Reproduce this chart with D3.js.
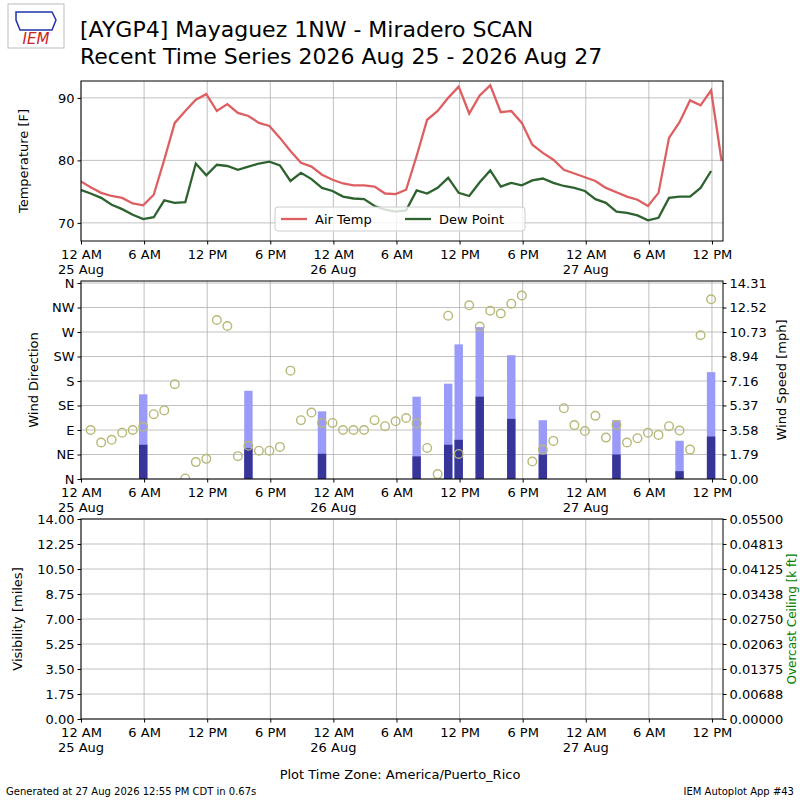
<!DOCTYPE html>
<html>
<head>
<meta charset="utf-8">
<script src="https://cdn.jsdelivr.net/npm/d3@7"></script>
<style>
body { margin:0; background:#fff; }
text { font-family: "DejaVu Sans", sans-serif; }
</style>
</head>
<body>
<div id="chart-area"></div>
<script>
// observations are hourly, each a few minutes before the hour
var airTemp = [76.7,75.7,74.8,74.3,74.0,73.1,72.8,74.5,80.1,86.0,87.9,89.7,90.6,87.9,89.0,87.6,87.1,86.0,85.5,83.6,
    81.5,79.6,79.0,77.7,76.9,76.3,76.0,76.0,75.8,74.7,74.6,75.3,80.7,86.5,87.9,90.0,91.8,87.5,90.4,92.0,
    87.7,87.9,86.0,82.5,81.2,80.1,78.5,77.9,77.3,76.7,75.6,74.9,74.2,73.7,72.7,74.8,83.6,86.1,89.6,88.8,91.2,79.9];
var dewPoint = [75.3,74.7,74.0,72.9,72.2,71.3,70.6,70.9,73.6,73.2,73.3,79.5,77.6,79.3,79.1,78.5,79.0,79.5,79.8,79.2,
    76.7,78.0,77.0,75.6,75.1,74.2,73.9,73.8,72.7,72.1,71.8,72.0,75.2,74.7,75.6,77.2,74.8,74.3,76.5,78.4,
    75.8,76.4,76.0,76.8,77.1,76.4,75.9,75.6,75.1,73.8,73.2,71.8,71.6,71.2,70.4,70.8,74.0,74.2,74.2,75.6,78.3];
// wind direction, hours 1..60
var windDir = [90,67,72,85,90,96,119,126,174,1,31,37,292,281,42,61,52,52,59,199,
    108,122,103,103,90,90,90,108,97,106,112,102,57,9,300,46,319,280,309,304,
    322,337,32,54,70,130,99,88,116,76,99,67,75,85,81,97,89,54,264,330];
var windHours = [6,16,23,32,35,36,38,41,44,51,57,60];
var windSpeed = [2.50,2.24,1.84,1.65,2.50,2.86,6.01,4.39,1.79,1.79,0.57,3.10];
var windGust  = [6.18,6.44,4.94,6.01,6.96,9.83,11.09,9.04,4.29,4.29,2.79,7.80];

var hourTicks = [0,6,12,18,24,30,36,42,48,54,60];
var hourLabels = ["12 AM","6 AM","12 PM","6 PM","12 AM","6 AM","12 PM","6 PM","12 AM","6 AM","12 PM"];
var dayLabels = {0:"25 Aug",24:"26 Aug",48:"27 Aug"};
var dirLabels = ["N","NE","E","SE","S","SW","W","NW","N"];
var speedTicks = [0,1.79,3.58,5.37,7.16,8.94,10.73,12.52,14.31];
var visTicks = [0,1.75,3.5,5.25,7,8.75,10.5,12.25,14];
var ceilTicks = [0,0.00688,0.01375,0.02063,0.0275,0.03438,0.04125,0.04813,0.055];

function obsTime(k) { return k - 5/60; }

var svg = d3.select("#chart-area").append("svg").attr("width",800).attr("height",800);

var x = d3.scaleLinear().domain([0,61.05]).range([81,723]);

var panels = [
    { top:81, bottom:241 },
    { top:281, bottom:479 },
    { top:519, bottom:719 }
];

var clipId = 0;
function frame(p) {
    var g = svg.append("g");
    hourTicks.forEach(function(h) {
        g.append("line").attr("x1",x(h)).attr("x2",x(h)).attr("y1",p.top).attr("y2",p.bottom)
            .attr("stroke","#b0b0b0").attr("stroke-width",0.8);
    });
    var xAxis = d3.axisBottom(x).tickValues(hourTicks).tickSize(3.5).tickFormat(function(d,i) { return hourLabels[i]; });
    var ax = svg.append("g").attr("transform","translate(0," + p.bottom + ")").call(xAxis);
    ax.select(".domain").remove();
    ax.selectAll("text").attr("font-size",13).attr("font-family","DejaVu Sans, sans-serif").attr("fill","#000").attr("dy","0.9em");
    hourTicks.forEach(function(h) {
        if (dayLabels[h] !== undefined) {
            svg.append("text").attr("x",x(h)).attr("y",p.bottom+33).attr("text-anchor","middle")
                .attr("font-size",13).text(dayLabels[h]);
        }
    });
    clipId++;
    svg.append("clipPath").attr("id","clip"+clipId).append("rect")
        .attr("x",81).attr("y",p.top).attr("width",723-81).attr("height",p.bottom-p.top);
    p.clip = "url(#clip"+clipId+")";
    return g;
}
function border(p) {
    svg.append("rect").attr("x",81).attr("y",p.top).attr("width",723-81).attr("height",p.bottom-p.top)
        .attr("fill","none").attr("stroke","#000").attr("stroke-width",1);
}
function styleAxis(ax) {
    ax.select(".domain").remove();
    ax.selectAll("text").attr("font-size",13).attr("font-family","DejaVu Sans, sans-serif").attr("fill","#000");
}
function hGrid(g, y, ticks) {
    ticks.forEach(function(t) {
        g.append("line").attr("x1",81).attr("x2",723).attr("y1",y(t)).attr("y2",y(t))
            .attr("stroke","#b0b0b0").attr("stroke-width",0.8);
    });
}
function yTitle(txt, xp, yp, color) {
    svg.append("text").attr("transform","translate(" + xp + "," + yp + ") rotate(-90)")
        .attr("text-anchor","middle").attr("font-size",13).attr("fill",color || "#000").text(txt);
}

// ---- temperature panel
var p0 = panels[0];
var g0 = frame(p0);
var yT = d3.scaleLinear().domain([67.1,92.7]).range([p0.bottom,p0.top]);
hGrid(g0, yT, [70,80,90]);
styleAxis(svg.append("g").attr("transform","translate(81,0)").call(d3.axisLeft(yT).tickValues([70,80,90]).tickSize(3.5)));
var line = d3.line().x(function(d,i) { return x(obsTime(i)); }).y(function(d) { return yT(d); });
svg.append("path").datum(airTemp).attr("d",line).attr("fill","none").attr("stroke","#dd5f62")
    .attr("stroke-width",2.3).attr("clip-path",p0.clip);
svg.append("path").datum(dewPoint).attr("d",line).attr("fill","none").attr("stroke","#2e6330")
    .attr("stroke-width",2.3).attr("clip-path",p0.clip);
border(p0);
yTitle("Temperature [F]", 28, 161);

var leg = svg.append("g").attr("transform","translate(275,207)");
leg.append("rect").attr("width",250).attr("height",24).attr("rx",3).attr("fill","#fff")
    .attr("fill-opacity",0.8).attr("stroke","#ccc");
[["Air Temp","#dd5f62",6],["Dew Point","#2e6330",130]].forEach(function(l) {
    leg.append("line").attr("x1",l[2]).attr("x2",l[2]+26).attr("y1",12).attr("y2",12).attr("stroke",l[1]).attr("stroke-width",2.3);
    leg.append("text").attr("x",l[2]+34).attr("y",17).attr("font-size",13).text(l[0]);
});

// ---- wind panel
var p1 = panels[1];
var g1 = frame(p1);
var yD = d3.scaleLinear().domain([0,360]).range([p1.bottom,p1.top+2]);
var yS = d3.scaleLinear().domain([0,14.31]).range([p1.bottom,p1.top+2]);
hGrid(g1, yD, d3.range(0,361,45));
styleAxis(svg.append("g").attr("transform","translate(81,0)")
    .call(d3.axisLeft(yD).tickValues(d3.range(0,361,45)).tickSize(3.5).tickFormat(function(d,i) { return dirLabels[i]; })));
styleAxis(svg.append("g").attr("transform","translate(723,0)")
    .call(d3.axisRight(yS).tickValues(speedTicks).tickSize(3.5).tickFormat(d3.format(".2f"))));
var bw = x(0.8) - x(0);
svg.selectAll(".gust").data(windHours).enter().append("rect")
    .attr("x",function(d) { return x(obsTime(d)) - bw/2; })
    .attr("y",function(d,i) { return yS(windGust[i]); })
    .attr("width",bw).attr("height",function(d,i) { return yS(0) - yS(windGust[i]); })
    .attr("fill","#9a9af8");
svg.selectAll(".speed").data(windHours).enter().append("rect")
    .attr("x",function(d) { return x(obsTime(d)) - bw/2; })
    .attr("y",function(d,i) { return yS(windSpeed[i]); })
    .attr("width",bw).attr("height",function(d,i) { return yS(0) - yS(windSpeed[i]); })
    .attr("fill","#373598");
svg.selectAll(".dir").data(windDir).enter().append("circle")
    .attr("cx",function(d,i) { return x(obsTime(i+1)); })
    .attr("cy",function(d) { return yD(d); })
    .attr("r",4.3).attr("fill","none").attr("stroke","#b8b877").attr("stroke-width",1.4)
    .attr("clip-path",p1.clip);
border(p1);
yTitle("Wind Direction", 38, 380);
svg.append("text").attr("transform","translate(786,380) rotate(-90)").attr("text-anchor","middle")
    .attr("font-size",13).text("Wind Speed [mph]");

// ---- visibility panel
var p2 = panels[2];
var g2 = frame(p2);
var yV = d3.scaleLinear().domain([0,14]).range([p2.bottom,p2.top]);
var yC = d3.scaleLinear().domain([0,0.055]).range([p2.bottom,p2.top]);
hGrid(g2, yV, visTicks);
styleAxis(svg.append("g").attr("transform","translate(81,0)")
    .call(d3.axisLeft(yV).tickValues(visTicks).tickSize(3.5).tickFormat(d3.format(".2f"))));
styleAxis(svg.append("g").attr("transform","translate(723,0)")
    .call(d3.axisRight(yC).tickValues(ceilTicks).tickSize(3.5).tickFormat(d3.format(".5f"))));
border(p2);
yTitle("Visibility [miles]", 22, 619);
svg.append("text").attr("transform","translate(796,619) rotate(-90)").attr("text-anchor","middle")
    .attr("font-size",12).attr("fill","green").text("Overcast Ceiling [k ft]");

// ---- titles
svg.append("text").attr("x",80).attr("y",37).attr("font-size",22).text("[AYGP4] Mayaguez 1NW - Miradero SCAN");
svg.append("text").attr("x",80).attr("y",64).attr("font-size",22).text("Recent Time Series 2026 Aug 25 - 2026 Aug 27");
svg.append("text").attr("x",400).attr("y",779).attr("text-anchor","middle").attr("font-size",13).text("Plot Time Zone: America/Puerto_Rico");
svg.append("text").attr("x",6).attr("y",795).attr("font-size",10).text("Generated at 27 Aug 2026 12:55 PM CDT in 0.67s");
svg.append("text").attr("x",794).attr("y",795).attr("text-anchor","end").attr("font-size",10).text("IEM Autoplot App #43");

// logo
var logo = svg.append("g").attr("transform","translate(8,4)");
logo.append("rect").attr("width",56).attr("height",44).attr("fill","#fff").attr("stroke","#bbb");
logo.append("path").attr("d","M8,8 L44,8 L48,16 L44,26 L12,26 L8,16 Z").attr("fill","none").attr("stroke","#2233aa").attr("stroke-width",1.5);
logo.append("text").attr("x",28).attr("y",40).attr("text-anchor","middle").attr("font-size",15)
    .attr("font-style","italic").attr("font-family","Liberation Serif, serif").attr("fill","#c22").text("IEM");
</script>
</body>
</html>
